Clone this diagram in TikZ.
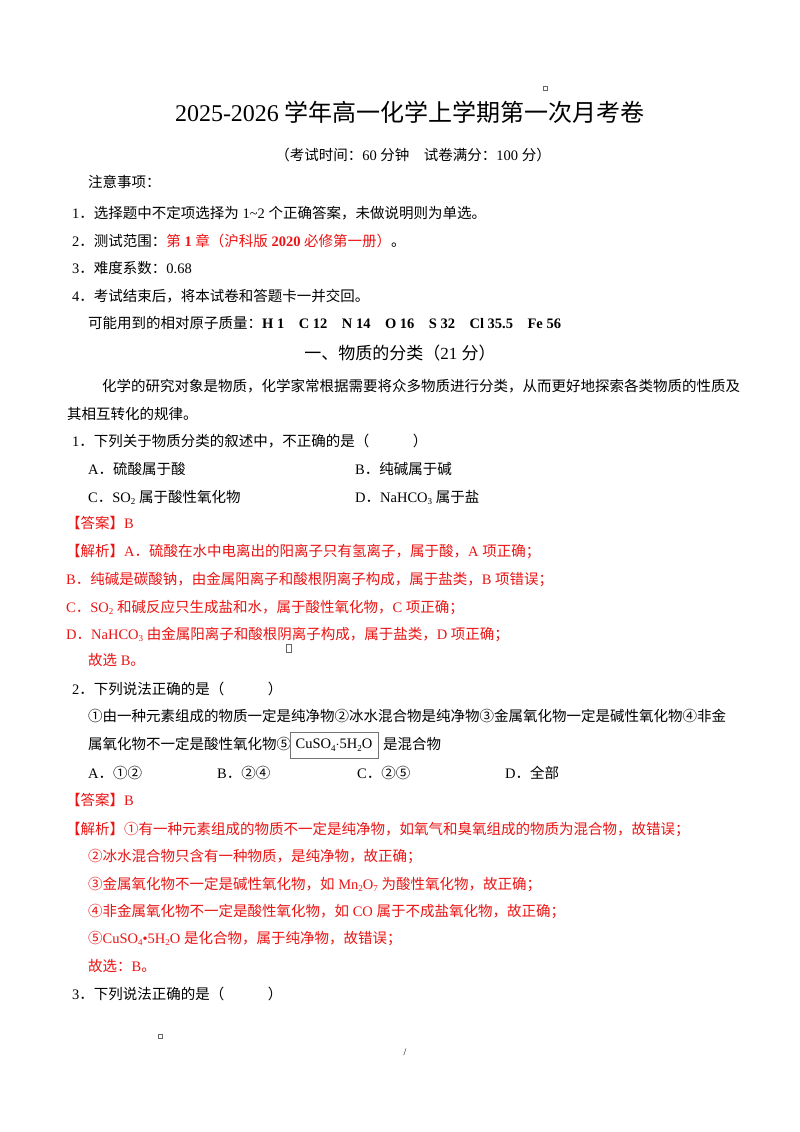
\documentclass[tikz,border=0pt]{standalone}
\usepackage{fontspec}
\setmainfont{Liberation Serif}
\newfontfamily\cjk{Noto Sans CJK SC}[BoldFont={Noto Sans CJK SC Bold}]
\XeTeXinterchartokenstate=1
\newXeTeXintercharclass\cjkclass
\newcount\cc
\def\setrange#1#2{\cc=#1\relax\loop\XeTeXcharclass\cc=\cjkclass\advance\cc by 1\relax\ifnum\cc<#2\repeat}
\setrange{"4E00}{"A000}
\setrange{"3000}{"3040}
\setrange{"FF00}{"FFF0}
\setrange{"2460}{"2474}
\XeTeXinterchartoks 0 \cjkclass = {\cjk}
\XeTeXinterchartoks 4095 \cjkclass = {\cjk}
\XeTeXinterchartoks \cjkclass 0 = {\rmfamily}
\XeTeXinterchartoks \cjkclass 4095 = {\rmfamily}
\definecolor{ans}{RGB}{235,20,20}
\newcommand\chsub[1]{\raisebox{-2.5pt}{\fontsize{9}{9}\selectfont #1}}
\tikzset{ln/.style={anchor=base west,inner sep=0pt,font=\fontsize{14.5}{16}\selectfont},
 rd/.style={ln,text=ans},
 tinybox/.style={draw=black!60,line width=0.4pt}}
\begin{document}
\begin{tikzpicture}[x=1pt,y=-1pt]
\fill[white] (0,0) rectangle (800,1132);
\node[anchor=base,inner sep=0pt,font=\fontsize{24}{26}\selectfont] (title) at (410,121) {2025-2026 学年高一化学上学期第一次月考卷};
\node[anchor=base,inner sep=0pt,font=\fontsize{14.5}{16}\selectfont] (sub) at (413,160) {（考试时间：60 分钟\quad 试卷满分：100 分）};
\node[ln] (n0) at (88,187) {注意事项：};
\node[ln] (n1) at (72,218) {1．选择题中不定项选择为 1\textasciitilde2 个正确答案，未做说明则为单选。};
\node[ln] (n2) at (72,246) {2．测试范围：\textcolor{ans}{第 \textbf{1} 章（沪科版 \textbf{2020} 必修第一册）}。};
\node[ln] (n3) at (72,273) {3．难度系数：0.68};
\node[ln] (n4) at (72,301) {4．考试结束后，将本试卷和答题卡一并交回。};
\node[ln] (n5) at (88,328) {可能用到的相对原子质量：\textbf{H 1\quad C 12\quad N 14\quad O 16\quad S 32\quad Cl 35.5\quad Fe 56}};
\node[anchor=base,inner sep=0pt,font=\fontsize{17}{19}\selectfont] (sec) at (400,359) {一、物质的分类（21 分）};
\node[ln] (p1) at (102,391) {化学的研究对象是物质，化学家常根据需要将众多物质进行分类，从而更好地探索各类物质的性质及};
\node[ln] (p2) at (67,419) {其相互转化的规律。};
\node[ln] (q1) at (72,446) {1．下列关于物质分类的叙述中，不正确的是（\hspace{3em}）};
\node[ln] (q1a) at (88,474) {A．硫酸属于酸};
\node[ln] (q1b) at (355,474) {B．纯碱属于碱};
\node[ln] (q1c) at (88,502) {C．SO\chsub{2} 属于酸性氧化物};
\node[ln] (q1d) at (355,502) {D．NaHCO\chsub{3} 属于盐};
\node[rd] (a1) at (66,528) {【答案】B};
\node[rd] (j1) at (66,556) {【解析】A．硫酸在水中电离出的阳离子只有氢离子，属于酸，A 项正确；};
\node[rd] (j2) at (66,584) {B．纯碱是碳酸钠，由金属阳离子和酸根阴离子构成，属于盐类，B 项错误；};
\node[rd] (j3) at (66,612) {C．SO\chsub{2} 和碱反应只生成盐和水，属于酸性氧化物，C 项正确；};
\node[rd] (j4) at (66,639) {D．NaHCO\chsub{3} 由金属阳离子和酸根阴离子构成，属于盐类，D 项正确；};
\node[rd] (j5) at (88,665) {故选 B。};
\node[ln] (q2) at (72,694) {2．下列说法正确的是（\hspace{3em}）};
\node[ln] (q2s1) at (88,721) {①由一种元素组成的物质一定是纯净物②冰水混合物是纯净物③金属氧化物一定是碱性氧化物④非金};
\node[ln] (q2s2) at (88,749) {属氧化物不一定是酸性氧化物⑤\hspace{92pt}是混合物};
\node[draw=black!55,line width=0.5pt,minimum width=88pt,minimum height=26pt,inner sep=0pt,font=\fontsize{14.5}{16}\selectfont] (box) at (334,745) {CuSO\chsub{4}${\cdot}$5H\chsub{2}O};
\node[ln] (q2a) at (88,778) {A．①②};
\node[ln] (q2b) at (217,778) {B．②④};
\node[ln] (q2c) at (357,778) {C．②⑤};
\node[ln] (q2d) at (505,778) {D．全部};
\node[rd] (a2) at (66,805) {【答案】B};
\node[rd] (k1) at (66,834) {【解析】①有一种元素组成的物质不一定是纯净物，如氧气和臭氧组成的物质为混合物，故错误；};
\node[rd] (k2) at (88,861) {②冰水混合物只含有一种物质，是纯净物，故正确；};
\node[rd] (k3) at (88,889) {③金属氧化物不一定是碱性氧化物，如 Mn\chsub{2}O\chsub{7} 为酸性氧化物，故正确；};
\node[rd] (k4) at (88,916) {④非金属氧化物不一定是酸性氧化物，如 CO 属于不成盐氧化物，故正确；};
\node[rd] (k5) at (88,943) {⑤CuSO\chsub{4}•5H\chsub{2}O 是化合物，属于纯净物，故错误；};
\node[rd] (k6) at (88,971) {故选：B。};
\node[ln] (q3) at (72,999) {3．下列说法正确的是（\hspace{3em}）};
\draw[tinybox] (543,86) rectangle (547,90);
\draw[tinybox] (286,644) rectangle (291,652);
\draw[tinybox] (158,1034) rectangle (162,1038);
\node[inner sep=0pt,font=\fontsize{10}{10}\selectfont] (slash) at (405,1052) {/};
\end{tikzpicture}
\end{document}
